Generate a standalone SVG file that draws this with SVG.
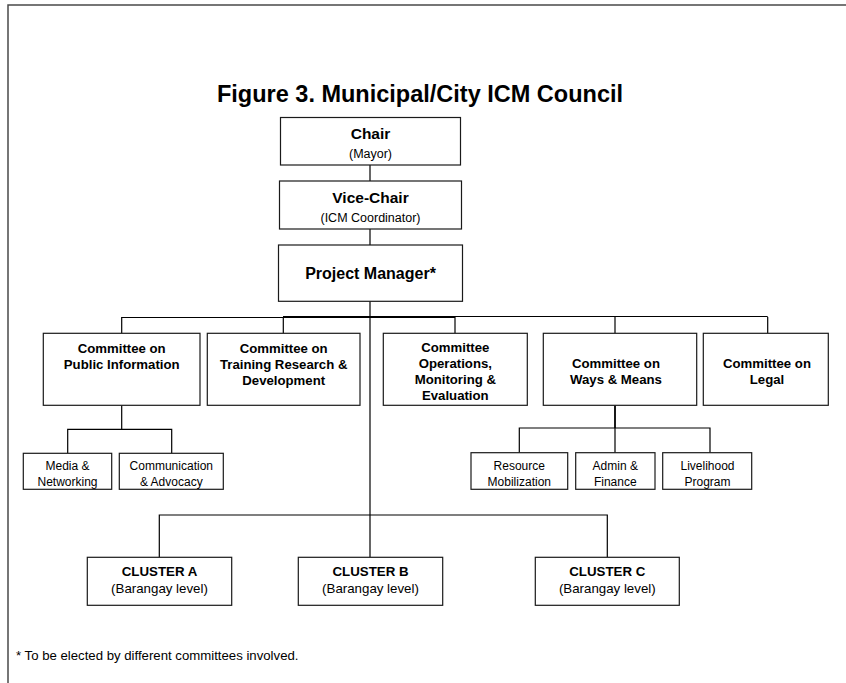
<svg xmlns="http://www.w3.org/2000/svg" width="846" height="683" viewBox="0 0 846 683">
  <style>
    text { font-family: "Liberation Sans", Arial, Helvetica, sans-serif; fill: #000; text-anchor: middle; }
    .frame { fill: none; stroke: #4a4a4a; stroke-width: 1.5; }
    .box { fill: #fff; stroke: #1a1a1a; stroke-width: 1.2; }
    .link { fill: none; stroke: #000; stroke-width: 1.2; }
    .title { font-size: 23.5px; font-weight: bold; }
    .head { font-size: 15.5px; font-weight: bold; }
    .sub { font-size: 12.5px; }
    .pm { font-size: 16px; font-weight: bold; }
    .cmt { font-size: 13.2px; font-weight: bold; }
    .unit { font-size: 12px; }
    .clu { font-size: 13.3px; font-weight: bold; }
    .clsub { font-size: 13.3px; }
    .note { font-size: 13.2px; text-anchor: start; }
  </style>
  <rect width="846" height="683" fill="#fff"/>
  <!-- page frame: open on the right and bottom -->
  <path class="frame" d="M8,690 V5 H850"/>

  <text class="title" x="420" y="102">Figure 3. Municipal/City ICM Council</text>

  <g id="connectors">
    <path class="link" d="M370,165 V181"/>
    <path class="link" d="M370,229 V245"/>
    <path class="link" d="M370,301 V515"/>
    <path class="link" d="M121.7,317.5 H455"/>
    <path class="link" d="M283,316.5 H767.7"/>
    <path class="link" d="M121.7,317 V333.3"/>
    <path class="link" d="M283.3,317 V333.3"/>
    <path class="link" d="M455,317 V333.3"/>
    <path class="link" d="M615,317 V333.3"/>
    <path class="link" d="M767.7,317 V333.3"/>
    <path class="link" d="M121.7,405.3 V429.3 M67.7,453.3 V429.3 H171.7 V453.3"/>
    <path class="link" d="M615,405.3 V428" style="stroke-width:1.8"/>
    <path class="link" d="M519.3,452.7 V428 H710 V452.7 M615,428 V452.7"/>
    <path class="link" d="M159.3,557.3 V515 H607.3 V557.3 M370,515 V557.3"/>
  </g>

  <g id="chair">
    <rect class="box" x="280.5" y="117.5" width="180" height="47.5"/>
    <text class="head" x="370.5" y="139">Chair</text>
    <text class="sub" x="370.5" y="157.5">(Mayor)</text>
  </g>
  <g id="vice-chair">
    <rect class="box" x="279.5" y="181" width="182" height="48"/>
    <text class="head" x="370.5" y="203">Vice-Chair</text>
    <text class="sub" x="370.5" y="221.5">(ICM Coordinator)</text>
  </g>
  <g id="project-manager">
    <rect class="box" x="278.5" y="245" width="184" height="56.3"/>
    <text class="pm" x="370.5" y="279">Project Manager*</text>
  </g>

  <g id="public-information">
    <rect class="box" x="43.3" y="333.3" width="156.7" height="72"/>
    <text class="cmt" x="121.7" y="353">Committee on</text>
    <text class="cmt" x="121.7" y="369">Public Information</text>
  </g>
  <g id="training">
    <rect class="box" x="207.3" y="333.3" width="152.7" height="72"/>
    <text class="cmt" x="283.7" y="353">Committee on</text>
    <text class="cmt" x="283.7" y="369">Training Research &amp;</text>
    <text class="cmt" x="283.7" y="385">Development</text>
  </g>
  <g id="operations">
    <rect class="box" x="383.3" y="333.3" width="144" height="72"/>
    <text class="cmt" x="455.3" y="351.5">Committee</text>
    <text class="cmt" x="455.3" y="367.5">Operations,</text>
    <text class="cmt" x="455.3" y="383.5">Monitoring &amp;</text>
    <text class="cmt" x="455.3" y="399.5">Evaluation</text>
  </g>
  <g id="ways-means">
    <rect class="box" x="543.3" y="333.3" width="153.4" height="72"/>
    <text class="cmt" x="616" y="368">Committee on</text>
    <text class="cmt" x="616" y="384">Ways &amp; Means</text>
  </g>
  <g id="legal">
    <rect class="box" x="703.3" y="333.3" width="125" height="72"/>
    <text class="cmt" x="767" y="368">Committee on</text>
    <text class="cmt" x="767" y="384">Legal</text>
  </g>

  <g id="media-networking">
    <rect class="box" x="23.3" y="453.3" width="88.4" height="36"/>
    <text class="unit" x="67.5" y="470">Media &amp;</text>
    <text class="unit" x="67.5" y="485.5">Networking</text>
  </g>
  <g id="communication-advocacy">
    <rect class="box" x="119.3" y="453.3" width="104" height="36"/>
    <text class="unit" x="171.3" y="470">Communication</text>
    <text class="unit" x="171.3" y="485.5">&amp; Advocacy</text>
  </g>
  <g id="resource-mobilization">
    <rect class="box" x="471" y="452.7" width="96.7" height="36.6"/>
    <text class="unit" x="519.3" y="470">Resource</text>
    <text class="unit" x="519.3" y="485.5">Mobilization</text>
  </g>
  <g id="admin-finance">
    <rect class="box" x="575.7" y="452.7" width="79.3" height="36.6"/>
    <text class="unit" x="615.3" y="470">Admin &amp;</text>
    <text class="unit" x="615.3" y="485.5">Finance</text>
  </g>
  <g id="livelihood">
    <rect class="box" x="662.7" y="452.7" width="89" height="36.6"/>
    <text class="unit" x="707.5" y="470">Livelihood</text>
    <text class="unit" x="707.5" y="485.5">Program</text>
  </g>

  <g id="cluster-a">
    <rect class="box" x="87.3" y="557.3" width="144.4" height="48"/>
    <text class="clu" x="159.5" y="576">CLUSTER A</text>
    <text class="clsub" x="159.5" y="593">(Barangay level)</text>
  </g>
  <g id="cluster-b">
    <rect class="box" x="298.3" y="557.3" width="144.4" height="48"/>
    <text class="clu" x="370.5" y="576">CLUSTER B</text>
    <text class="clsub" x="370.5" y="593">(Barangay level)</text>
  </g>
  <g id="cluster-c">
    <rect class="box" x="535.3" y="557.3" width="144" height="48"/>
    <text class="clu" x="607.3" y="576">CLUSTER C</text>
    <text class="clsub" x="607.3" y="593">(Barangay level)</text>
  </g>

  <text class="note" x="16" y="660">* To be elected by different committees involved.</text>
</svg>
